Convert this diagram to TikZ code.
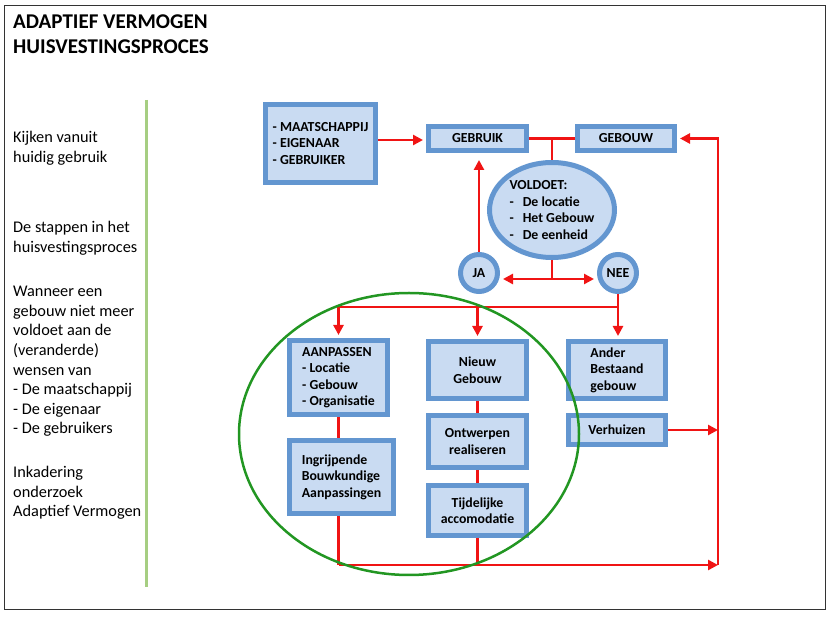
\documentclass[tikz,border=0pt]{standalone}
\usepackage{fontspec}
\setmainfont{Carlito}
\usetikzlibrary{positioning,shapes.geometric,arrows.meta}

\definecolor{blokrand}{RGB}{99,150,208}
\definecolor{blokvul}{RGB}{201,219,242}
\definecolor{pijlrood}{RGB}{240,20,20}
\definecolor{kadergroen}{RGB}{34,150,34}
\definecolor{lijngroen}{RGB}{166,206,130}

\tikzset{
	blok/.style={draw=blokrand, fill=blokvul, line width=5pt, inner sep=2pt,
		font=\bfseries\fontsize{13.8}{16.5}\selectfont},
	rondje/.style={blok, circle, minimum size=37pt, inner sep=0pt},
	lijn/.style={draw=pijlrood, line width=2.5pt},
	pijl/.style={lijn, -{Triangle[length=10pt,width=10pt]}},
	zijtekst/.style={anchor=north west, align=left, inner sep=0pt,
		font=\fontsize{16.3}{19.6}\selectfont}
}

\begin{document}
\begin{tikzpicture}[x=1pt, y=-1pt]
		\useasboundingbox (0,0) rectangle (831,617);
		\draw[black!80, line width=0.8pt] (4,5) rectangle (825,609);
		
		% titel en zijkant
		\node[anchor=north west, align=left, inner sep=0pt, font=\bfseries\fontsize{21}{25}\selectfont] (titel) at (13,15) {ADAPTIEF VERMOGEN\\HUISVESTINGSPROCES};
		\draw[lijngroen, line width=3pt] (146,100) -- (146,587);
		\node[zijtekst] (kijken) at (13,131) {Kijken vanuit\\huidig gebruik};
		\node[zijtekst] (stappen) at (13,221) {De stappen in het\\huisvestingsproces};
		\node[zijtekst] (wanneer) at (13,286) {Wanneer een\\gebouw niet meer\\voldoet aan de\\(veranderde)\\wensen van\\- De maatschappij\\- De eigenaar\\- De gebruikers};
		\node[zijtekst] (inkadering) at (13,466) {Inkadering\\onderzoek\\Adaptief Vermogen};
		
		% bovenste rij
		\node[blok, minimum width=110pt, minimum height=78pt, align=left] (partijen) at (320.5,143.5) {- MAATSCHAPPIJ\\- EIGENAAR\\- GEBRUIKER};
		\node[blok, minimum width=98pt, minimum height=24pt] (gebruik) at (477.5,138.5) {GEBRUIK};
		\node[blok, minimum width=97pt, minimum height=24pt] (gebouw) at (626,138.5) {GEBOUW};
		\node[blok, ellipse, minimum width=125pt, minimum height=95pt, inner sep=0pt, align=left] (voldoet) at (552,210) {VOLDOET:\\-\hspace{9pt}De locatie\\-\hspace{9pt}Het Gebouw\\-\hspace{9pt}De eenheid};
		\node[rondje] (ja) at (479,273) {JA};
		\node[rondje] (nee) at (618,273) {NEE};
		
		% onderste deel
		\node[blok, minimum width=98pt, minimum height=74pt, align=left] (aanpassen) at (338.5,377.5) {AANPASSEN\\- Locatie\\- Gebouw\\- Organisatie};
		\node[blok, minimum width=104pt, minimum height=73pt, align=left] (ingrijpend) at (341.5,477) {Ingrijpende\\Bouwkundige\\Aanpassingen};
		\node[blok, minimum width=98pt, minimum height=57pt, align=center] (nieuw) at (477.5,370) {Nieuw\\Gebouw};
		\node[blok, minimum width=98pt, minimum height=52pt, align=center, below=12pt of nieuw] (ontwerpen) {Ontwerpen\\realiseren};
		\node[blok, minimum width=98pt, minimum height=50pt, align=center, below=13pt of ontwerpen] (tijdelijk) {Tijdelijke\\accomodatie};
		\node[blok, minimum width=97pt, minimum height=57pt, align=left] (ander) at (617,370) {Ander\\Bestaand\\gebouw};
		\node[blok, minimum width=97pt, minimum height=29pt, below=12pt of ander] (verhuizen) {Verhuizen};
		
		\coordinate (splits) at (552,279);
		\coordinate (verdeel) at (618,307);
		\coordinate (onder) at (338.5,565);
		\coordinate (rechtsonder) at (718,565);
		
		\draw[pijl, shorten >=3pt] (partijen.east |- 140,140) -- (gebruik.west |- 140,140);
		\draw[lijn] (gebruik.east) -- (gebouw.west);
		\draw[lijn] (voldoet.north) -- (voldoet.north |- gebruik.east);
		\draw[lijn] (voldoet.south) -- (splits);
		\draw[pijl, shorten >=3pt] (splits) -- (ja.east |- splits);
		\draw[pijl, shorten >=3pt] (splits) -- (nee.west |- splits);
		\draw[pijl, shorten >=7pt] (ja.north) -- (ja.north |- gebruik.south);
		
		\draw[pijl, shorten >=3pt] (nee.south) -- (nee.south |- ander.north);
		\draw[lijn] (aanpassen.north |- verdeel) -- (verdeel);
		\draw[pijl, shorten >=3pt] (aanpassen.north |- verdeel) -- (aanpassen.north);
		\draw[pijl, shorten >=3pt] (nieuw.north |- verdeel) -- (nieuw.north);
		
		\draw[lijn] (aanpassen.south) -- (aanpassen.south |- ingrijpend.north);
		\draw[lijn] (nieuw.south) -- (ontwerpen.north);
		\draw[lijn] (ontwerpen.south) -- (tijdelijk.north);
		\draw[lijn] (aanpassen.south |- ingrijpend.south) -- (onder);
		\draw[lijn] (tijdelijk.south) -- (tijdelijk.south |- onder);
		\draw[pijl] (onder) -- (rechtsonder);
		\draw[pijl] (verhuizen.east) -- (verhuizen.east -| rechtsonder);
		\draw[pijl, shorten >=3pt] (rechtsonder) -- (gebouw.east -| rechtsonder) -- (gebouw.east);
		
		% groene omkadering
		\draw[kadergroen, line width=2.5pt] (409,434) ellipse [x radius=170pt, y radius=141pt];
	\end{tikzpicture}
\end{document}
